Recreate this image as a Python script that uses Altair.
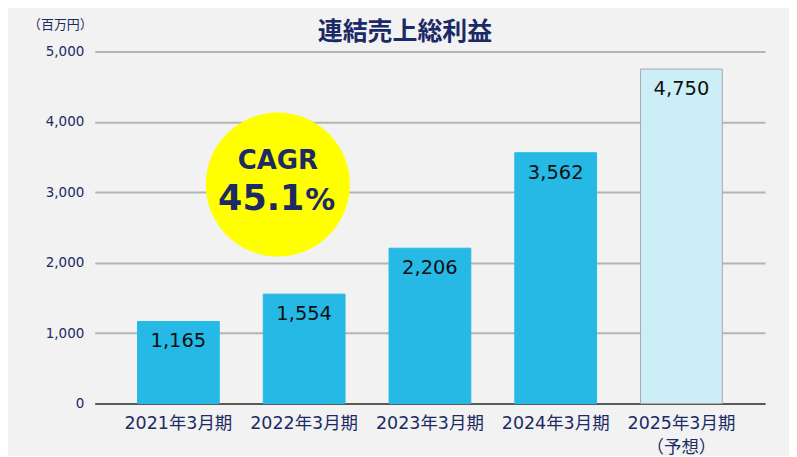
import altair as alt
import pandas as pd

# ---- data ----
periods = ["2021年3月期", "2022年3月期", "2023年3月期", "2024年3月期", "2025年3月期"]
values = [1165, 1554, 2206, 3562, 4750]
status = ["実績", "実績", "実績", "実績", "予想"]
forecast_note = "（予想）"
y_ticks = [0, 1000, 2000, 3000, 4000, 5000]
title_text = "連結売上総利益"
unit_text = "（百万円）"
cagr_label = ["CAGR"]
cagr_number = ["45.1"]
cagr_pct = ["%"]
cagr_y = [3110]

df = pd.DataFrame({"period": periods, "value": values, "status": status})
df["label"] = [f"{v:,}" for v in values]
circle_df = pd.DataFrame({"value": cagr_y, "cagr": cagr_label, "num": cagr_number, "pct": cagr_pct})

FONT = "DejaVu Sans, Noto Sans CJK JP"
NAVY = "#1C2B64"

label_expr = (
    f"datum.label == '{periods[-1]}' ? ['{periods[-1]}', '{forecast_note}'] : datum.label"
)

x_enc = alt.X(
    "period:N",
    sort=periods,
    scale=alt.Scale(paddingInner=0.35, paddingOuter=0.34),
    axis=alt.Axis(
        title=None, labelAngle=0, ticks=False, domainColor="#595959", domainWidth=2,
        labelFontSize=17.5, labelColor=NAVY, labelFont=FONT, labelPadding=11,
        labelLineHeight=24, labelExpr=label_expr,
    ),
)
y_enc = alt.Y(
    "value:Q",
    scale=alt.Scale(domain=[0, 5000]),
    axis=alt.Axis(
        values=y_ticks, labelExpr="format(datum.value, ',')", title=unit_text,
        titleAngle=0, titleX=-35, titleY=-27,
        titleAlign="center", titleBaseline="middle", titleFontSize=13,
        titleFontWeight="normal", titleColor=NAVY, titleFont="Noto Sans CJK JP",
        domain=False, ticks=False, gridColor="#B4B4B4", gridWidth=2,
        labelPadding=11, labelFontSize=13.5, labelColor=NAVY, labelFont=FONT,
    ),
)

bars = alt.Chart(df).mark_bar(strokeWidth=1).encode(
    x=x_enc,
    y=y_enc,
    color=alt.Color("status:N", scale=alt.Scale(domain=["実績", "予想"], range=["#26B9E5", "#CCEFF7"]), legend=None),
    stroke=alt.Stroke("status:N", scale=alt.Scale(domain=["実績", "予想"], range=["#26B9E5", "#A8A8A8"]), legend=None),
)

bar_text = alt.Chart(df).mark_text(
    baseline="middle", dy=20, fontSize=19.5, font=FONT, color="#111111"
).encode(x=x_enc, y=y_enc, text="label:N")

circle = alt.Chart(circle_df).mark_point(
    filled=True, shape="circle", size=20867, color="#FFFF00", opacity=1
).encode(x=alt.value(183.5), y=y_enc)

cagr_t = alt.Chart(circle_df).mark_text(
    baseline="alphabetic", align="center", dy=-16, fontSize=26, fontWeight="bold", font=FONT, color=NAVY
).encode(x=alt.value(183.5), y=y_enc, text="cagr:N")

num_t = alt.Chart(circle_df).mark_text(
    baseline="alphabetic", align="right", dy=25.5, fontSize=35, fontWeight="bold", font=FONT, color=NAVY
).encode(x=alt.value(210), y=y_enc, text="num:N")

pct_t = alt.Chart(circle_df).mark_text(
    baseline="alphabetic", align="left", dy=25.5, fontSize=30, fontWeight="bold", font=FONT, color=NAVY
).encode(x=alt.value(211), y=y_enc, text="pct:N")

chart = alt.layer(bars, bar_text, circle, cagr_t, num_t, pct_t).properties(
    width=672,
    height=353,
    background="#F2F2F2",
    padding={"left": 87, "top": 43, "right": 24, "bottom": 52},
    autosize=alt.AutoSizeParams(type="none"),
    title=alt.TitleParams(
        title_text, fontSize=25, fontWeight="bold", font="Noto Sans CJK JP",
        color="#1B2A66", anchor="middle", dx=-25, dy=35, offset=8,
    ),
).configure_view(stroke=None)

chart.save("out.html", embed_options={"renderer": "svg", "actions": False})
